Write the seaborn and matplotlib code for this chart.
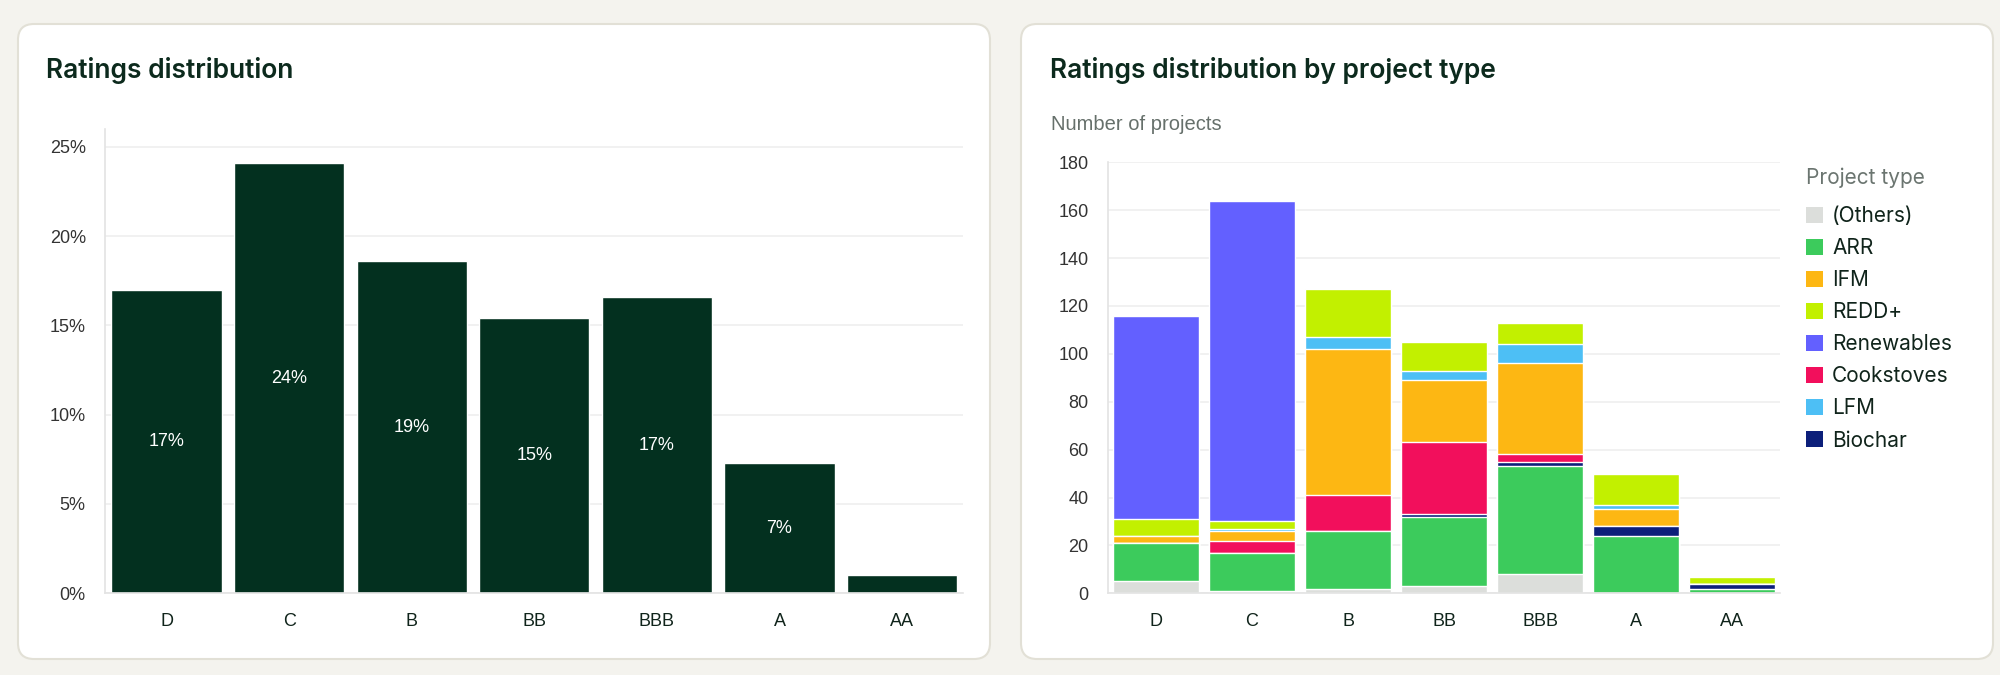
import pandas as pd
import matplotlib
matplotlib.use("Agg")
import matplotlib.pyplot as plt
import seaborn as sns
from matplotlib.patches import FancyBboxPatch, Rectangle
from matplotlib.transforms import IdentityTransform
from matplotlib.ticker import PercentFormatter

# datos
ratings = ["D", "C", "B", "BB", "BBB", "A", "AA"]
pct = [17.0, 24.1, 18.6, 15.4, 16.6, 7.3, 1.0]

# proyectos por tipo (en orden de ratings)
others = [5, 1, 2, 3, 8, 0, 0]
arr = [16, 16, 24, 29, 45, 24, 2]
biochar = [0, 0, 0, 1, 2, 4, 2]
cookstoves = [0, 5, 15, 30, 3, 0, 0]
ifm = [3, 4, 61, 26, 38, 7, 0]
lfm = [0, 1, 5, 4, 8, 2, 0]
redd = [7, 3, 20, 12, 9, 13, 3]
renewables = [85, 134, 0, 0, 0, 0, 0]

stack_order = ["(Others)", "ARR", "Biochar", "Cookstoves", "IFM", "LFM", "REDD+", "Renewables"]
legend_order = ["(Others)", "ARR", "IFM", "REDD+", "Renewables", "Cookstoves", "LFM", "Biochar"]
colores = {
    "(Others)": "#dcdedb",
    "ARR": "#3ccb5c",
    "IFM": "#fdb713",
    "REDD+": "#c2f000",
    "Renewables": "#6360ff",
    "Cookstoves": "#f20f5c",
    "LFM": "#4dbff5",
    "Biochar": "#0c1f7a",
}

series = [others, arr, biochar, cookstoves, ifm, lfm, redd, renewables]
df = pd.concat(
    [pd.DataFrame({"rating": ratings, "type": t, "n": v}) for t, v in zip(stack_order, series)],
    ignore_index=True,
)
df["cum"] = df.groupby("rating", sort=False)["n"].cumsum()

sns.set_style("white")
plt.rcParams["font.family"] = ["Liberation Sans", "DejaVu Sans"]

fondo = "#f4f3ee"
verde = "#03301f"
gris_grid = "#efefef"
gris_eje = "#e3e3e3"

fig = plt.figure(figsize=(20, 6.75), dpi=100, facecolor=fondo)

# paneles blancos
for x0 in (18, 1021):
    panel = FancyBboxPatch((x0, 16), 972, 635, boxstyle="round,pad=0,rounding_size=16",
                           transform=IdentityTransform(), facecolor="white",
                           edgecolor="#e2e0d6", linewidth=1.5, zorder=-5)
    fig.add_artist(panel)

# --- Gráfico izquierdo ---
ax1 = fig.add_axes([105.2 / 2000, 1 - 593.2 / 675, 858.2 / 2000, 464.1 / 675])
ax1.set_facecolor("none")
sns.barplot(x=ratings, y=pct, order=ratings, color=verde, saturation=1, width=0.9, ax=ax1)
etiquetas = [f"{round(p)}%" if p > 3 else "" for p in pct]
ax1.bar_label(ax1.containers[0], labels=etiquetas, label_type="center",
              color="white", fontsize=13)
ax1.set_ylim(0, 26)
ax1.set_xlim(-0.5, 6.5)
ax1.set_yticks([0, 5, 10, 15, 20, 25])
ax1.yaxis.set_major_formatter(PercentFormatter(xmax=100, decimals=0))

# --- Gráfico derecho (apilado) ---
ax2 = fig.add_axes([1108 / 2000, 1 - 593.3 / 675, 672 / 2000, 431 / 675])
ax2.set_facecolor("none")
for t in reversed(stack_order):
    sub = df[df["type"] == t]
    sns.barplot(data=sub, x="rating", y="cum", order=ratings, color=colores[t],
                saturation=1, width=0.9, ax=ax2)
ax2.set_ylim(0, 180)
ax2.set_xlim(-0.5, 6.5)
ax2.set_yticks(range(0, 181, 20))

for ax in (ax1, ax2):
    ax.set_xlabel("")
    ax.set_ylabel("")
    ax.set_axisbelow(True)
    ax.yaxis.grid(True, color=gris_grid, linewidth=1.2)
    ax.xaxis.grid(False)
    for s in ("top", "right"):
        ax.spines[s].set_visible(False)
    ax.spines["left"].set_color(gris_eje)
    ax.spines["bottom"].set_color(gris_eje)
    ax.spines["left"].set_linewidth(1.2)
    ax.spines["bottom"].set_linewidth(1.2)
    ax.tick_params(axis="y", length=7, width=1, color=gris_eje, pad=7,
                   labelsize=13, labelcolor="#333333")
    ax.tick_params(axis="x", length=7, width=1, color=gris_eje, pad=7,
                   labelsize=13, labelcolor="#10241b")

# títulos
fig.text(46 / 2000, 1 - 71 / 675, "Ratings distribution", fontsize=19, fontweight="semibold",
         color="#0c2a1d", family="Inter", va="center", ha="left")
fig.text(1050 / 2000, 1 - 71 / 675, "Ratings distribution by project type", fontsize=19,
         fontweight="semibold", color="#0c2a1d", family="Inter", va="center", ha="left")
fig.text(1051 / 2000, 1 - 124 / 675, "Number of projects", fontsize=14.5,
         color="#66706b", va="center", ha="left")

# leyenda
fig.text(1806 / 2000, 1 - 178 / 675, "Project type", fontsize=15, family="Inter",
         color="#6b7570", va="center", ha="left")
handles = [Rectangle((0, 0), 1, 1, facecolor=colores[t], edgecolor="none") for t in legend_order]
leg = fig.legend(handles, legend_order, loc="upper left",
                 bbox_to_anchor=(1806 / 2000, 1 - 206 / 675), bbox_transform=fig.transFigure,
                 frameon=False, prop={"family": "Inter", "size": 15},
                 handlelength=0.8, handleheight=0.8, handletextpad=0.45,
                 labelspacing=0.58, borderpad=0, borderaxespad=0)
for txt in leg.get_texts():
    txt.set_color("#10241b")

fig.savefig("out.png", dpi=100, facecolor=fondo)
